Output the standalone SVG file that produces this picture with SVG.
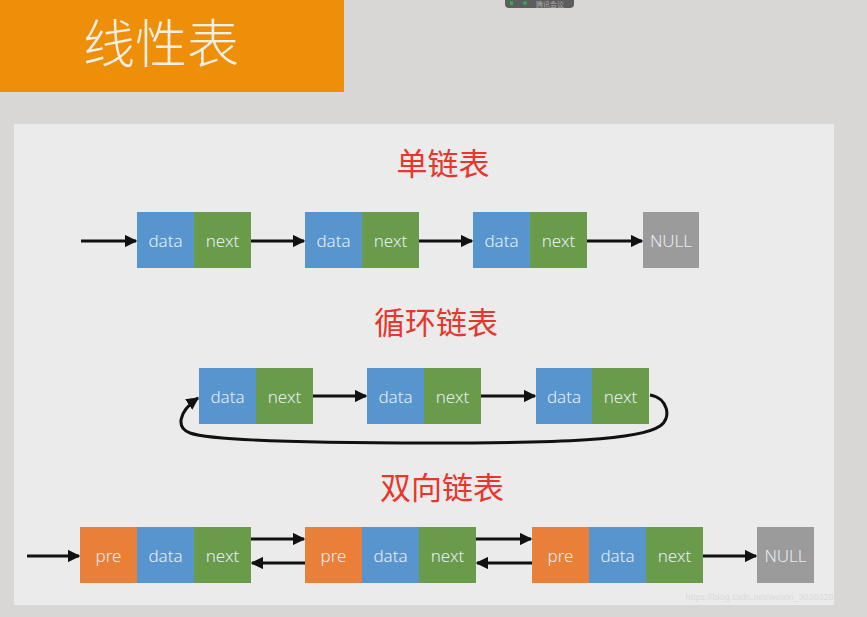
<svg xmlns="http://www.w3.org/2000/svg" width="867" height="617" viewBox="0 0 867 617">
  <defs>
    <marker id="arrow" viewBox="0 0 10 10" refX="9" refY="5" markerWidth="4.2" markerHeight="4.2" markerUnits="strokeWidth" orient="auto">
      <path d="M0,0 L10,5 L0,10 z" fill="#111"/>
    </marker>
    <style>
      .data { fill: #5895cf; }
      .next { fill: #699b4b; }
      .pre { fill: #e8803a; }
      .null { fill: #9b9b9b; }
      .lbl { font-family: "Noto Sans", "Liberation Sans", sans-serif; font-size: 17px; fill: #e6edf2; text-anchor: middle; dominant-baseline: central; font-weight: 300; }
      .title { font-family: "Noto Sans CJK SC", sans-serif; font-size: 31px; fill: #e8362d; text-anchor: middle; }
      .edge { stroke: #111; stroke-width: 3; fill: none; marker-end: url(#arrow); }
    </style>
  </defs>

  <!-- backdrop and panel -->
  <rect x="0" y="0" width="867" height="617" fill="#d8d7d5"/>
  <rect x="14" y="124" width="820" height="481" fill="#ebebeb"/>

  <!-- heading banner -->
  <g id="banner">
    <rect x="0" y="0" width="344" height="92" fill="#ee8f0a"/>
    <text x="161" y="63" font-family="Noto Sans CJK SC, sans-serif" font-size="52" font-weight="300" fill="#f5efe6" text-anchor="middle">线性表</text>
  </g>

  <!-- meeting app pill -->
  <g id="pill">
    <rect x="505" y="-5" width="69" height="13" rx="4" fill="#5d5d5d"/>
    <rect x="510" y="1" width="3" height="4" fill="#2fa85a"/>
    <circle cx="525" cy="3" r="2" fill="#2fa85a"/>
    <text x="550" y="7" font-family="Noto Sans CJK SC, sans-serif" font-size="7" fill="#a9a9a9" text-anchor="middle">腾讯会议</text>
  </g>

  <!-- section titles -->
  <text class="title" x="443" y="175">单链表</text>
  <text class="title" x="436" y="334">循环链表</text>
  <text class="title" x="442" y="499">双向链表</text>

  <!-- singly linked list -->
  <g id="s1"><rect class="data" x="137" y="212" width="57" height="56"/><rect class="next" x="194" y="212" width="57" height="56"/><text class="lbl" x="165.5" y="240">data</text><text class="lbl" x="222.5" y="240">next</text></g>
  <g id="s2"><rect class="data" x="305" y="212" width="57" height="56"/><rect class="next" x="362" y="212" width="57" height="56"/><text class="lbl" x="333.5" y="240">data</text><text class="lbl" x="390.5" y="240">next</text></g>
  <g id="s3"><rect class="data" x="473" y="212" width="57" height="56"/><rect class="next" x="530" y="212" width="57" height="56"/><text class="lbl" x="501.5" y="240">data</text><text class="lbl" x="558.5" y="240">next</text></g>
  <g id="snull"><rect class="null" x="643" y="212" width="56" height="56"/><text class="lbl" x="671" y="240">NULL</text></g>

  <!-- circular linked list -->
  <g id="c1"><rect class="data" x="199" y="368" width="57" height="56"/><rect class="next" x="256" y="368" width="57" height="56"/><text class="lbl" x="227.5" y="396">data</text><text class="lbl" x="284.5" y="396">next</text></g>
  <g id="c2"><rect class="data" x="367" y="368" width="57" height="56"/><rect class="next" x="424" y="368" width="57" height="56"/><text class="lbl" x="395.5" y="396">data</text><text class="lbl" x="452.5" y="396">next</text></g>
  <g id="c3"><rect class="data" x="536" y="368" width="56" height="56"/><rect class="next" x="592" y="368" width="57" height="56"/><text class="lbl" x="564" y="396">data</text><text class="lbl" x="620.5" y="396">next</text></g>

  <!-- doubly linked list -->
  <g id="d1"><rect class="pre" x="80" y="527" width="57" height="56"/><rect class="data" x="137" y="527" width="57" height="56"/><rect class="next" x="194" y="527" width="57" height="56"/><text class="lbl" x="108.5" y="555">pre</text><text class="lbl" x="165.5" y="555">data</text><text class="lbl" x="222.5" y="555">next</text></g>
  <g id="d2"><rect class="pre" x="305" y="527" width="57" height="56"/><rect class="data" x="362" y="527" width="57" height="56"/><rect class="next" x="419" y="527" width="57" height="56"/><text class="lbl" x="333.5" y="555">pre</text><text class="lbl" x="390.5" y="555">data</text><text class="lbl" x="447.5" y="555">next</text></g>
  <g id="d3"><rect class="pre" x="532" y="527" width="57" height="56"/><rect class="data" x="589" y="527" width="57" height="56"/><rect class="next" x="646" y="527" width="57" height="56"/><text class="lbl" x="560.5" y="555">pre</text><text class="lbl" x="617.5" y="555">data</text><text class="lbl" x="674.5" y="555">next</text></g>
  <g id="dnull"><rect class="null" x="757" y="527" width="57" height="56"/><text class="lbl" x="785.5" y="555">NULL</text></g>

  <!-- connectors -->
  <g id="connectors">
    <path class="edge" d="M81,241 H136"/>
    <path class="edge" d="M251,241 H304"/>
    <path class="edge" d="M419,241 H472"/>
    <path class="edge" d="M587,241 H642"/>

    <path class="edge" d="M313,396 H366"/>
    <path class="edge" d="M481,396 H535"/>
    <path class="edge" d="M650,395 C668,398 672,418 660,426 C640,440 560,443 430,443 C300,443 210,440 190,433 C176,428 178,412 198,398"/>

    <path class="edge" d="M27,556 H79"/>
    <path class="edge" d="M251,539 H304"/>
    <path class="edge" d="M305,563 H252"/>
    <path class="edge" d="M476,539 H531"/>
    <path class="edge" d="M532,563 H477"/>
    <path class="edge" d="M703,556 H756"/>
  </g>

  <!-- footer link -->
  <text x="762" y="600" font-family="Liberation Sans, sans-serif" font-size="9" fill="#dadada" text-anchor="middle">https://blog.csdn.net/weixin_30353283</text>
</svg>
